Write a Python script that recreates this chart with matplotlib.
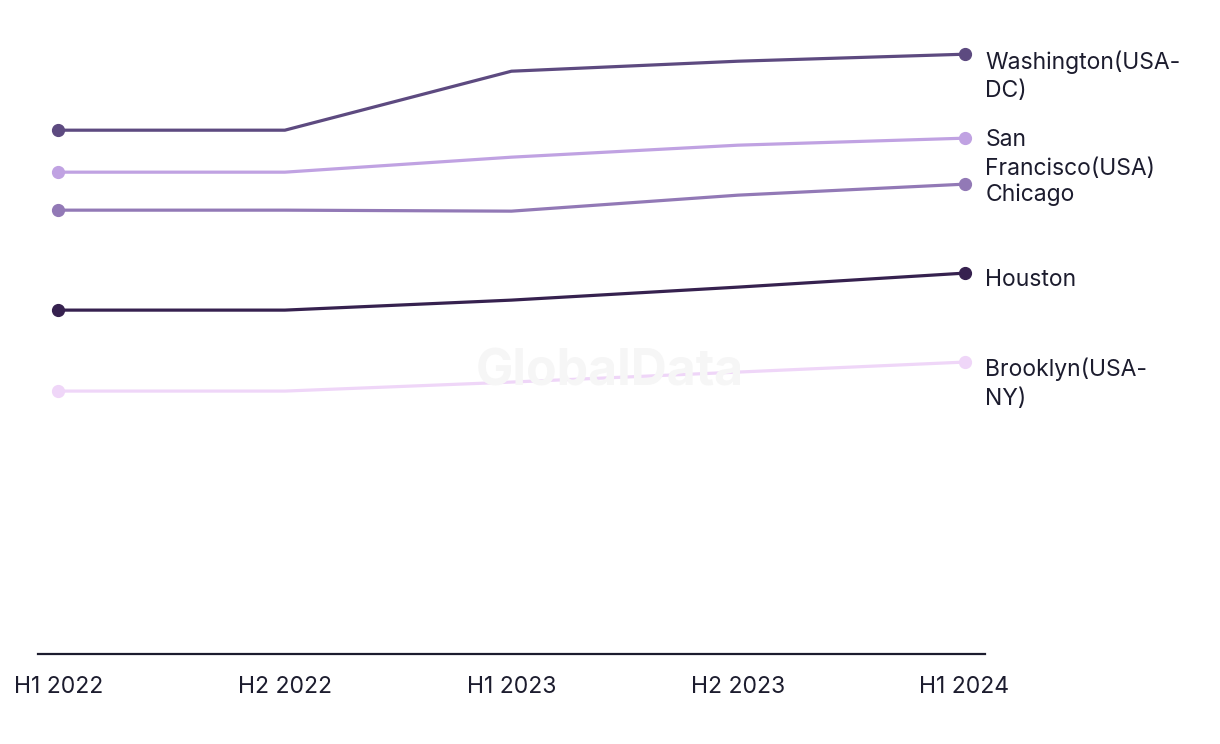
import matplotlib
matplotlib.use("Agg")
from matplotlib import pyplot as plt

periods = ["H1 2022", "H2 2022", "H1 2023", "H2 2023", "H1 2024"]

washington = [52.4, 52.4, 58.3, 59.3, 60.0]
san_francisco = [48.2, 48.2, 49.7, 50.9, 51.6]
chicago = [44.4, 44.4, 44.3, 45.9, 47.0]
houston = [34.4, 34.4, 35.4, 36.7, 38.1]
brooklyn = [26.3, 26.3, 27.2, 28.2, 29.2]

series = [
    ("Washington(USA-\nDC)", washington, "#5d4a80"),
    ("San\nFrancisco(USA)", san_francisco, "#c0a2e2"),
    ("Chicago", chicago, "#9279b6"),
    ("Houston", houston, "#36214f"),
    ("Brooklyn(USA-\nNY)", brooklyn, "#efd6f8"),
]
# label nudges (points) so the end labels don't pile up
nudge = {"San\nFrancisco(USA)": 6.6, "Chicago": 0.8}

plt.rcParams['font.family'] = ['Inter', 'DejaVu Sans']

fig = plt.figure(figsize=(12.2, 7.44), dpi=100)
ax = fig.add_axes([0.0311, 0.121, 0.7762, 0.833])

x = list(range(len(periods)))
for name, vals, col in series:
    ax.plot(x, vals, color=col, linewidth=2.3, marker='o', markersize=8.5,
            markevery=[0, len(x) - 1], solid_capstyle='round')
    ax.annotate(name, (x[-1], vals[-1]), xytext=(15, nudge.get(name, 3)),
                textcoords='offset points', va='top', ha='left', fontsize=16.5,
                color='#1c1c2e', linespacing=1.4, annotation_clip=False)

# watermark
fig.text(0.5, 0.5, "GlobalData", ha='center', va='center',
         fontsize=36, fontweight='bold', color='#f6f6f6', zorder=0)

ax.set_xlim(-0.09, 4.09)
ax.set_ylim(0, 62)
ax.set_xticks(x)
ax.set_xticklabels(periods, fontsize=16.5, color='#1c1c2e')
ax.set_yticks([])
for s in ['top', 'right', 'left']:
    ax.spines[s].set_visible(False)
ax.spines['bottom'].set_color('#1c1c2e')
ax.spines['bottom'].set_linewidth(1.6)
ax.tick_params(axis='x', length=0, pad=16)
ax.patch.set_alpha(0)

plt.savefig("out.png", dpi=100)
